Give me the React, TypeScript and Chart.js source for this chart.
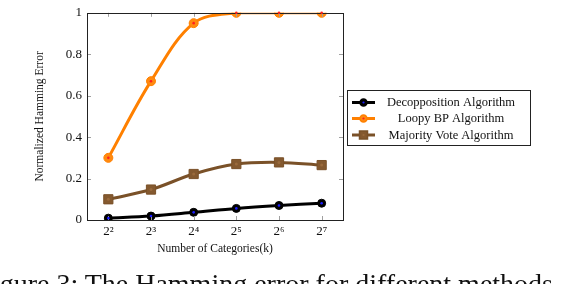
import React, { useEffect, useRef } from "react";
import { Chart, registerables } from "chart.js";

Chart.register(...registerables);

const categories = ["2²", "2³", "2⁴", "2⁵", "2⁶", "2⁷"];
const decomposition = [0.009, 0.019, 0.037, 0.056, 0.07, 0.081];
const loopyBP = [0.3, 0.67, 0.95, 1.0, 1.0, 1.0];
const majorityVote = [0.1, 0.147, 0.222, 0.27, 0.278, 0.265];
const seriesNames = ["Decopposition Algorithm", "Loopy BP Algorithm", "Majority Vote Algorithm"];
const yTicks = [0, 0.2, 0.4, 0.6, 0.8, 1];
const yAxisTitle = "Normalized Hamming Error";
const xAxisTitle = "Number of Categories(k)";
const caption = "Figure 3: The Hamming error for different methods";

const FONT = "'Liberation Serif', 'DejaVu Serif', serif";
const centerDots = ["#1a1aff", "#ff2020", "#9a6a3c"];

const framePlugin = {
  id: "frameTicks",
  afterDatasetsDraw(chart: any) {
    const { ctx, chartArea: a, scales } = chart;
    ctx.save();
    ctx.strokeStyle = "#a0a0a0";
    ctx.lineWidth = 1;
    const L = 4;
    scales.x.ticks.forEach((_t: any, i: number) => {
      const x = Math.round(scales.x.getPixelForTick(i)) + 0.5;
      ctx.beginPath();
      ctx.moveTo(x, a.bottom); ctx.lineTo(x, a.bottom - L);
      ctx.moveTo(x, a.top); ctx.lineTo(x, a.top + L);
      ctx.stroke();
    });
    yTicks.forEach((v) => {
      const y = Math.round(scales.y.getPixelForValue(v)) + 0.5;
      ctx.beginPath();
      ctx.moveTo(a.left, y); ctx.lineTo(a.left + L, y);
      ctx.moveTo(a.right, y); ctx.lineTo(a.right - L, y);
      ctx.stroke();
    });
    ctx.strokeStyle = "#222";
    ctx.lineWidth = 1;
    ctx.strokeRect(Math.round(a.left) + 0.5, Math.round(a.top) + 0.5, Math.round(a.right - a.left), Math.round(a.bottom - a.top));
    chart.data.datasets.forEach((_d: any, di: number) => {
      const meta = chart.getDatasetMeta(di);
      ctx.fillStyle = centerDots[di];
      meta.data.forEach((p: any) => {
        ctx.beginPath();
        ctx.arc(p.x, p.y, di === 2 ? 1.5 : 1.3, 0, Math.PI * 2);
        ctx.fill();
      });
    });
    ctx.restore();
  },
  afterDraw(chart: any) {
    const { ctx } = chart;
    const bx = 347, by = 90, bw = 183, bh = 55;
    ctx.save();
    ctx.fillStyle = "#fff";
    ctx.fillRect(bx, by, bw, bh);
    ctx.strokeStyle = "#222";
    ctx.lineWidth = 1;
    ctx.strokeRect(bx + 0.5, by + 0.5, bw, bh);
    const rows = [102.5, 118.5, 135];
    chart.data.datasets.forEach((d: any, i: number) => {
      const y = rows[i];
      ctx.strokeStyle = d.borderColor;
      ctx.lineWidth = 3;
      ctx.beginPath();
      ctx.moveTo(352, y); ctx.lineTo(375, y);
      ctx.stroke();
      ctx.fillStyle = d.pointBackgroundColor;
      ctx.strokeStyle = d.pointBorderColor;
      ctx.lineWidth = 1.5;
      ctx.beginPath();
      if (i === 2) {
        ctx.rect(363.5 - 4, y - 4, 8, 8);
      } else {
        ctx.arc(363.5, y, 3.5, 0, Math.PI * 2);
      }
      ctx.fill();
      ctx.stroke();
      ctx.fillStyle = centerDots[i];
      ctx.beginPath();
      ctx.arc(363.5, y, 1.1, 0, Math.PI * 2);
      ctx.fill();
      ctx.fillStyle = "#111";
      ctx.font = `12.5px ${FONT}`;
      ctx.textAlign = "center";
      ctx.textBaseline = "middle";
      ctx.fillText(seriesNames[i], 451, y + 0.5);
    });
    ctx.restore();
  },
};

export default function App() {
  const ref = useRef<HTMLCanvasElement>(null);
  useEffect(() => {
    document.body.style.margin = "0";
    const chart = new Chart(ref.current!, {
      type: "line",
      data: {
        labels: categories,
        datasets: [
          {
            label: seriesNames[0],
            data: decomposition,
            borderColor: "#000",
            backgroundColor: "#000",
            pointBackgroundColor: "#000",
            pointBorderColor: "#000",
            borderWidth: 3,
            pointRadius: 4,
            pointBorderWidth: 1,
            pointStyle: "circle",
            tension: 0.35,
          },
          {
            label: seriesNames[1],
            data: loopyBP,
            borderColor: "#ff8000",
            backgroundColor: "#ff8000",
            pointBackgroundColor: "#ff8a10",
            pointBorderColor: "#ff8000",
            borderWidth: 3,
            pointRadius: 4.5,
            pointBorderWidth: 1,
            pointStyle: "circle",
            tension: 0.35,
          },
          {
            label: seriesNames[2],
            data: majorityVote,
            borderColor: "#7a5128",
            backgroundColor: "#7a5128",
            pointBackgroundColor: "#84592f",
            pointBorderColor: "#7a5128",
            borderWidth: 3,
            pointRadius: 6.5,
            pointBorderWidth: 1,
            pointStyle: "rect",
            tension: 0.35,
          },
        ],
      },
      options: {
        animation: false,
        responsive: false,
        maintainAspectRatio: false,
        layout: { padding: { left: 0, top: 6, right: 223, bottom: 0 } },
        plugins: { legend: { display: false }, tooltip: { enabled: false } },
        scales: {
          x: {
            offset: true,
            grid: { display: false, drawTicks: false },
            border: { display: false },
            ticks: { color: "#111", font: { family: FONT, size: 13 }, padding: 4, maxRotation: 0 },
            title: { display: true, text: xAxisTitle, color: "#111", font: { family: FONT, size: 11.5 }, padding: { top: 0, bottom: 28 } },
            afterFit: (s: any) => { s.height = 64; },
          },
          y: {
            min: 0,
            max: 1,
            afterBuildTicks: (s: any) => { s.ticks = yTicks.map((v) => ({ value: v })); },
            grid: { display: false, drawTicks: false },
            border: { display: false },
            ticks: { color: "#111", font: { family: FONT, size: 13 }, padding: 5, callback: (v: any) => String(v) },
            title: { display: true, text: yAxisTitle, color: "#111", font: { family: FONT, size: 11.5 }, padding: { top: 33, bottom: 0 } },
            afterFit: (s: any) => { s.width = 87; },
          },
        },
      },
      plugins: [framePlugin],
    });
    return () => chart.destroy();
  }, []);
  return (
    <div style={{ position: "fixed", left: 0, top: 0, width: 566, height: 284, overflow: "hidden", background: "#fff" }}>
      <canvas ref={ref} width={566} height={284} style={{ position: "absolute", left: 0, top: 0 }} />
      <div
        style={{
          position: "absolute",
          right: 13,
          top: 270,
          whiteSpace: "nowrap",
          fontFamily: FONT,
          fontSize: 28,
          lineHeight: 1,
          color: "#111",
        }}
      >
        {caption}
      </div>
    </div>
  );
}
